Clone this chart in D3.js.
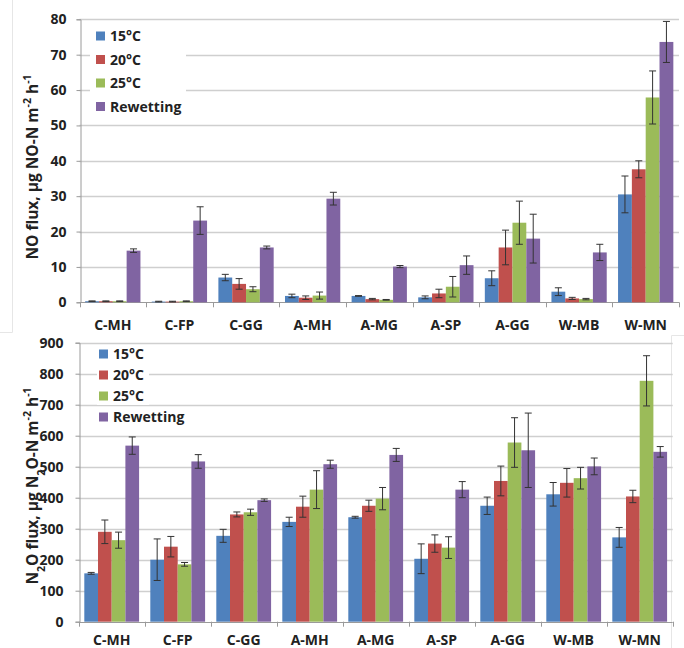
<!DOCTYPE html>
<html>
<head>
<meta charset="utf-8">
<script src="https://cdnjs.cloudflare.com/ajax/libs/d3/7.8.5/d3.min.js"></script>
<style>
  body { margin: 0; background: #fff; }
  svg text { font-family: "Open Sans", "Liberation Sans", sans-serif; font-weight: bold; fill: #222; }
</style>
</head>
<body>
<svg id="chart" width="684" height="648"></svg>
<script>
var categories = ["C-MH", "C-FP", "C-GG", "A-MH", "A-MG", "A-SP", "A-GG", "W-MB", "W-MN"]
var seriesNames = ["15°C", "20°C", "25°C", "Rewetting"]
var seriesColors = ["#4F81BD", "#C0504D", "#9BBB59", "#8064A2"]

// NO flux, ug NO-N m-2 h-1
var no15 = [0.3, 0.2, 7.0, 1.8, 1.8, 1.4, 6.8, 3.0, 30.5]
var no20 = [0.3, 0.2, 5.2, 1.3, 0.9, 2.5, 15.5, 1.1, 37.6]
var no25 = [0.3, 0.3, 3.7, 1.9, 0.7, 4.4, 22.5, 0.9, 57.9]
var noRew = [14.6, 23.1, 15.5, 29.3, 10.1, 10.5, 18.0, 14.1, 73.6]
var noErr15 = [0.1, 0.1, 0.9, 0.5, 0.1, 0.4, 2.1, 1.1, 5.2]
var noErr20 = [0.1, 0.1, 1.5, 0.5, 0.2, 1.2, 4.9, 0.3, 2.4]
var noErr25 = [0.1, 0.1, 0.7, 1.0, 0.1, 2.9, 6.1, 0.2, 7.5]
var noErrRew = [0.5, 3.9, 0.4, 1.8, 0.3, 2.6, 6.9, 2.3, 5.8]
var noTicks = [0, 10, 20, 30, 40, 50, 60, 70, 80]

// N2O flux, ug N2O-N m-2 h-1
var n2o15 = [156, 200, 277, 322, 337, 203, 374, 411, 272]
var n2o20 = [290, 242, 346, 371, 374, 252, 454, 448, 404]
var n2o25 = [263, 185, 353, 426, 397, 239, 578, 463, 777]
var n2oRew = [568, 517, 392, 508, 538, 426, 553, 501, 548]
var n2oErr15 = [3, 67, 21, 15, 3, 48, 28, 38, 32]
var n2oErr20 = [38, 33, 8, 34, 18, 28, 48, 46, 20]
var n2oErr25 = [26, 6, 10, 61, 36, 35, 80, 35, 81]
var n2oErrRew = [28, 22, 4, 13, 21, 26, 120, 27, 17]
var n2oTicks = [0, 100, 200, 300, 400, 500, 600, 700, 800, 900]

var svg = d3.select("#chart")

// faint frame corners left over from the two pasted pictures
svg.append("path")
   .attr("d", "M12.5,0 V332.5 H0 M671.5,648 V335.5 H684")
   .attr("fill", "none")
   .attr("stroke", "#e6e6e6")
   .attr("stroke-width", 1)

function drawPanel(opts) {
  var g = svg.append("g")

  var y = d3.scaleLinear().domain([0, opts.max]).range([opts.bottom, opts.top])
  var x0 = d3.scaleBand().domain(categories).range([opts.left, opts.right])
  var inset = x0.bandwidth() * 0.085
  var x1 = d3.scaleBand().domain(seriesNames).range([inset, x0.bandwidth() - inset])

  // gridlines
  g.selectAll("line.grid")
   .data(opts.ticks.filter(d => d > 0))
   .enter()
   .append("line")
   .attr("x1", opts.left)
   .attr("x2", opts.right)
   .attr("y1", d => Math.round(y(d)) + 0.5)
   .attr("y2", d => Math.round(y(d)) + 0.5)
   .attr("stroke", "#cfcfcf")
   .attr("stroke-width", 1.3)

  // y axis
  var yAxis = g.append("g")
    .attr("transform", `translate(${Math.round(opts.left) + 0.5},0)`)
    .call(d3.axisLeft(y).tickValues(opts.ticks).tickSize(4).tickPadding(opts.tickPad))
  yAxis.select(".domain").attr("stroke", "#9a9a9a")
  yAxis.selectAll(".tick line").attr("stroke", "#9a9a9a")
  yAxis.selectAll(".tick text")
       .attr("font-size", 14)
       .attr("fill", "#222")
       .style("font-family", "'Open Sans', sans-serif")
       .style("font-weight", "bold")

  // x axis
  var bounds = categories.map(c => x0(c)).concat([opts.right])
  g.append("line")
   .attr("x1", opts.left).attr("x2", opts.right)
   .attr("y1", Math.round(opts.bottom) + 0.5).attr("y2", Math.round(opts.bottom) + 0.5)
   .attr("stroke", "#9a9a9a")
  g.selectAll("line.xtick")
   .data(bounds)
   .enter()
   .append("line")
   .attr("x1", d => Math.round(d) + 0.5).attr("x2", d => Math.round(d) + 0.5)
   .attr("y1", opts.bottom).attr("y2", opts.bottom + 5)
   .attr("stroke", "#9a9a9a")
  g.selectAll("text.cat")
   .data(categories)
   .enter()
   .append("text")
   .attr("x", d => x0(d) + x0.bandwidth() / 2)
   .attr("y", opts.catY)
   .attr("text-anchor", "middle")
   .attr("font-size", 14)
   .text(d => d)

  // bars
  var rows = []
  categories.forEach((c, i) => {
    seriesNames.forEach((s, j) => {
      rows.push({cat: c, series: s, color: seriesColors[j], value: opts.values[j][i], err: opts.errors[j][i]})
    })
  })

  g.selectAll("rect.bar")
   .data(rows)
   .enter()
   .append("rect")
   .attr("x", d => x0(d.cat) + x1(d.series))
   .attr("width", x1.bandwidth())
   .attr("y", d => y(d.value))
   .attr("height", d => y(0) - y(d.value))
   .attr("fill", d => d.color)

  // error bars
  var eb = g.selectAll("g.err")
    .data(rows)
    .enter()
    .append("g")
    .attr("stroke", "#333")
    .attr("stroke-width", 1)
  eb.append("line")
    .attr("x1", d => x0(d.cat) + x1(d.series) + x1.bandwidth() / 2)
    .attr("x2", d => x0(d.cat) + x1(d.series) + x1.bandwidth() / 2)
    .attr("y1", d => y(d.value + d.err))
    .attr("y2", d => y(Math.max(0, d.value - d.err)))
  eb.selectAll("line.cap")
    .data(d => [d.value + d.err, Math.max(0, d.value - d.err)].map(v => ({v: v, d: d})))
    .enter()
    .append("line")
    .attr("x1", e => x0(e.d.cat) + x1(e.d.series) + x1.bandwidth() / 2 - 3.5)
    .attr("x2", e => x0(e.d.cat) + x1(e.d.series) + x1.bandwidth() / 2 + 3.5)
    .attr("y1", e => y(e.v))
    .attr("y2", e => y(e.v))

  // legend
  var lg = g.append("g")
  if (opts.legendBox) {
    lg.append("rect")
      .attr("x", opts.legendX - 6).attr("y", opts.legendY - 14)
      .attr("width", 96).attr("height", opts.legendStep * 4 + 6)
      .attr("fill", "#fff")
  }
  seriesNames.forEach((s, j) => {
    var cy = opts.legendY + j * opts.legendStep
    if (!opts.legendBox) {
      lg.append("rect")
        .attr("x", opts.legendX - 2).attr("y", cy - 9)
        .attr("width", s.length * 9 + 16).attr("height", 18)
        .attr("fill", "#fff")
    }
    lg.append("rect")
      .attr("x", opts.legendX).attr("y", cy - 4.5)
      .attr("width", 9).attr("height", 9)
      .attr("fill", seriesColors[j])
    lg.append("text")
      .attr("x", opts.legendX + 14).attr("y", cy + 5)
      .attr("font-size", 14)
      .text(s)
  })

  // y title
  var t = g.append("text")
    .attr("transform", `translate(${opts.titleX},${opts.titleY}) rotate(-90)`)
    .attr("text-anchor", "middle")
    .attr("font-size", 15.5)
  opts.title.forEach(part => {
    var sp = t.append("tspan").text(part.text)
    if (part.shift) {
      sp.attr("baseline-shift", part.shift).attr("font-size", 10.5)
    }
  })
}

drawPanel({
  max: 80, ticks: noTicks,
  left: 79.5, right: 679, top: 19.3, bottom: 302.3,
  tickPad: 10, catY: 330,
  values: [no15, no20, no25, noRew],
  errors: [noErr15, noErr20, noErr25, noErrRew],
  legendX: 96, legendY: 36, legendStep: 23.5, legendBox: true,
  titleX: 38, titleY: 167,
  title: [
    {text: "NO flux, µg NO-N m"}, {text: "-2", shift: "super"},
    {text: " h"}, {text: "-1", shift: "super"}
  ]
})

drawPanel({
  max: 900, ticks: n2oTicks,
  left: 78.7, right: 672.7, top: 342.7, bottom: 621.7,
  tickPad: 12, catY: 644.5,
  values: [n2o15, n2o20, n2o25, n2oRew],
  errors: [n2oErr15, n2oErr20, n2oErr25, n2oErrRew],
  legendX: 99, legendY: 354, legendStep: 21, legendBox: false,
  titleX: 38, titleY: 486,
  title: [
    {text: "N"}, {text: "2", shift: "sub"}, {text: "O flux,  µg N"}, {text: "2", shift: "sub"},
    {text: "O-N m"}, {text: "-2", shift: "super"}, {text: " h"}, {text: "-1", shift: "super"}
  ]
})
</script>
</body>
</html>
